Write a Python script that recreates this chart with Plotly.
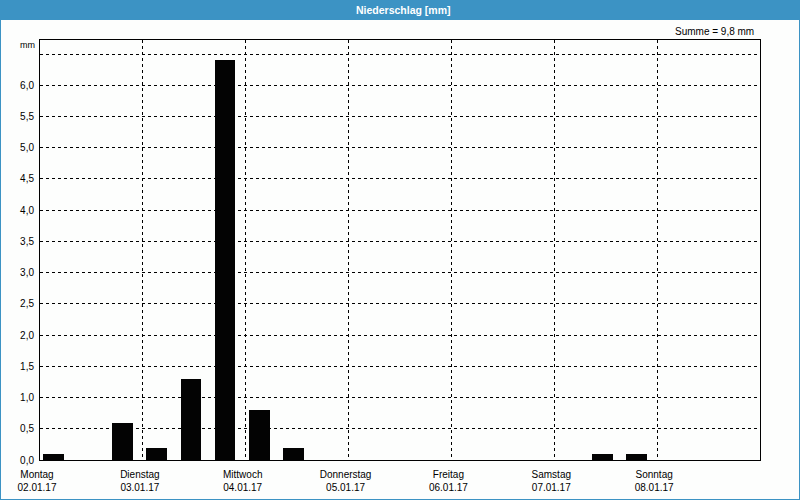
import plotly.graph_objects as go

# Data: precipitation per 8-hour slot (mm), Monday 02.01.17 .. Sunday 08.01.17
day_names = ["Montag", "Dienstag", "Mittwoch", "Donnerstag", "Freitag", "Samstag", "Sonntag"]
day_dates = ["02.01.17", "03.01.17", "04.01.17", "05.01.17", "06.01.17", "07.01.17", "08.01.17"]
slot_hours = [0, 8, 16, 24, 32, 40, 48, 56, 64, 72, 80, 88, 96, 104, 112, 120, 128, 136, 144, 152, 160]
precip_mm = [0.1, 0.0, 0.6,
             0.2, 1.3, 6.4,
             0.8, 0.2, 0.0,
             0.0, 0.0, 0.0,
             0.0, 0.0, 0.0,
             0.0, 0.1, 0.1,
             0.0, 0.0, 0.0]
y_ticks = [0.0, 0.5, 1.0, 1.5, 2.0, 2.5, 3.0, 3.5, 4.0, 4.5, 5.0, 5.5, 6.0, 6.5]
total = sum(precip_mm)

FONT = "Liberation Sans"
BLUE = "#3c93c4"

bar_x = [h + 3.2 for h in slot_hours]
fig = go.Figure()
fig.add_trace(go.Bar(
    x=bar_x, y=precip_mm, width=4.8,
    marker=dict(color="#030303", line=dict(width=0)),
    hoverinfo="skip",
))

tick_text_x = [f"{n}<br>{d}" for n, d in zip(day_names, day_dates)]
tick_text_y = [f"{v:.1f}".replace(".", ",") for v in y_ticks]
tick_text_y[-1] = ""

fig.update_layout(
    width=800, height=500,
    margin=dict(l=40, r=40, t=40, b=40, autoexpand=False),
    paper_bgcolor="#fdfefd", plot_bgcolor="#fdfefd",
    showlegend=False,
    bargap=0,
    font=dict(family=FONT, size=10, color="#000000"),
    xaxis=dict(
        range=[0, 168], tickmode="array",
        tickvals=[i * 24 for i in range(7)], ticktext=tick_text_x,
        showgrid=True, gridcolor="#000000", gridwidth=1, griddash="3px,3px",
        showline=True, linecolor="#000000", linewidth=1, mirror=True,
        zeroline=False, ticks="", ticklabelshift=-3, ticklabelstandoff=5,
        tickfont=dict(family=FONT, size=10), automargin=False,
        fixedrange=True,
    ),
    yaxis=dict(
        range=[0, 6.725], tickmode="array",
        tickvals=y_ticks, ticktext=tick_text_y,
        showgrid=True, gridcolor="#000000", gridwidth=1, griddash="3px,3px",
        showline=True, linecolor="#000000", linewidth=1, mirror=True,
        zeroline=False, ticks="", ticklabelstandoff=3,
        tickfont=dict(family=FONT, size=10), automargin=False,
        fixedrange=True,
    ),
    shapes=[
        # title bar
        dict(type="rect", xref="paper", yref="paper",
             x0=-40 / 720, x1=1 + 40 / 720, y0=1 + 20 / 420, y1=1 + 40 / 420,
             fillcolor=BLUE, line=dict(width=0), layer="below"),
        # outer frame
        dict(type="rect", xref="paper", yref="paper",
             x0=-40 / 720, x1=1 + 40 / 720, y0=-40 / 420, y1=1 + 40 / 420,
             fillcolor="rgba(0,0,0,0)", line=dict(color=BLUE, width=2)),
    ],
    annotations=[
        dict(text="<b>Niederschlag [mm]</b>", xref="paper", yref="paper",
             x=0.5, y=1 + 30 / 420, xanchor="center", yanchor="middle", xshift=3,
             showarrow=False, font=dict(family=FONT, size=10.5, color="#ffffff")),
        dict(text=f"Summe = {total:.1f} mm".replace(".", ","), xref="paper", yref="paper",
             x=(756 - 40) / 720, y=1 + 9 / 420, xanchor="right", yanchor="middle",
             showarrow=False, font=dict(family=FONT, size=10, color="#000000")),
        dict(text="mm", xref="paper", yref="paper",
             x=0, y=1, xanchor="right", yanchor="middle", xshift=-3, yshift=-5,
             showarrow=False, font=dict(family=FONT, size=9, color="#000000")),
    ],
)

fig.write_html("out.html")
